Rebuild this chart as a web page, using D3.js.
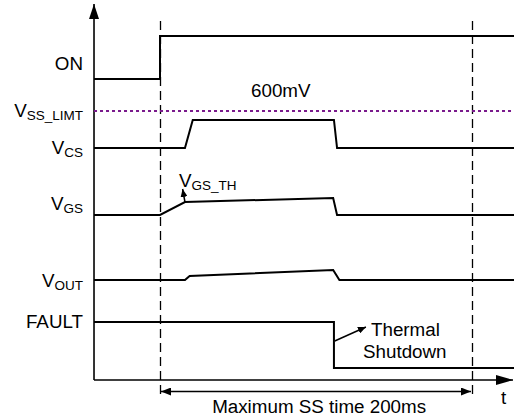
<!DOCTYPE html>
<html>
<head>
<meta charset="utf-8">
<script src="https://cdn.jsdelivr.net/npm/d3@7"></script>
<style>
  body { margin: 0; background: #fff; }
  text { font-family: "Liberation Sans", Arial, sans-serif; fill: #000; }
</style>
</head>
<body>
<div id="chart"></div>
<script>
/* DATA */
// time in ms (0 = enable edge, 200 = max soft-start time), level in arbitrary lane units
const tStart = -42.3, tEnd = 227;
const onWave    = [[tStart, 30.1], [0, 30.1], [0, 34.4], [tEnd, 34.4]];
const vcsWave   = [[tStart, 23.2], [16, 23.2], [21, 26.0], [111.5, 26.0], [113.5, 23.2], [tEnd, 23.2]];
const vgsWave   = [[tStart, 16.5], [0, 16.5], [16, 17.8], [111, 18.2], [113.5, 16.5], [tEnd, 16.5]];
const voutWave  = [[tStart, 10.0], [16, 10.0], [19, 10.4], [111, 11.0], [115, 10.0], [tEnd, 10.0]];
const faultWave = [[tStart, 5.8], [111.5, 5.8], [111.5, 1.2], [tEnd, 1.2]];
const waves = [onWave, vcsWave, vgsWave, voutWave, faultWave];

const ssLimit = 26.9;           // dotted 600mV level
const markerTimes = [0, 200];   // dashed vertical markers

const labelNames = ["ON", "V|SS_LIMT", "V|CS", "V|GS", "V|OUT", "FAULT"];
const labelLevels = [31.0, 26.3, 22.6, 17.0, 9.3, 5.2];

/* SETUP */
const W = 514, H = 419;
const svg = d3.select("#chart").append("svg").attr("width", W).attr("height", H);

const x = d3.scaleLinear().domain([0, 200]).range([160, 472]);
const y = d3.scaleLinear().domain([0, 36]).range([380, 20]);

const defs = svg.append("defs");
function marker(id, len, wid) {
  defs.append("marker").attr("id", id)
    .attr("viewBox", "0 0 10 10").attr("refX", 10).attr("refY", 5)
    .attr("markerWidth", len).attr("markerHeight", wid).attr("markerUnits", "userSpaceOnUse")
    .attr("orient", "auto-start-reverse")
    .attr("preserveAspectRatio", "none")
    .append("path").attr("d", "M0,0 L10,5 L0,10 Z").attr("fill", "#000");
}
marker("arrY", 15, 10);
marker("arrX", 17, 10);
marker("arrSpan", 10, 8);
marker("arrSmall", 8, 7);

// axes (no ticks, just arrows)
svg.append("line")
  .attr("x1", x(tStart)).attr("y1", y(0)).attr("x2", x(tStart)).attr("y2", 4)
  .attr("stroke", "#000").attr("stroke-width", 1.6).attr("marker-end", "url(#arrY)");
svg.append("line")
  .attr("x1", x(tStart)).attr("y1", y(0)).attr("x2", 513).attr("y2", y(0))
  .attr("stroke", "#000").attr("stroke-width", 1.6).attr("marker-end", "url(#arrX)");

// dashed time markers
svg.selectAll(".mark").data(markerTimes).join("line")
  .attr("class", "mark")
  .attr("x1", d => x(d) + 0.5).attr("x2", d => x(d) + 0.5)
  .attr("y1", 21).attr("y2", 396)
  .attr("stroke", "#000").attr("stroke-width", 1.3).attr("stroke-dasharray", "9,5");

// SS limit
svg.append("line")
  .attr("x1", x(tStart)).attr("x2", W).attr("y1", y(ssLimit)).attr("y2", y(ssLimit))
  .attr("stroke", "#7a1a8c").attr("stroke-width", 2).attr("stroke-dasharray", "3,3");
svg.append("text").attr("x", 251).attr("y", 97).attr("font-size", 18.8).text("600mV");

// waveforms
const line = d3.line().x(d => x(d[0])).y(d => y(d[1]));
svg.selectAll(".wave").data(waves).join("path")
  .attr("class", "wave")
  .attr("d", line)
  .attr("fill", "none").attr("stroke", "#000").attr("stroke-width", 2);

// signal labels
const lbl = svg.selectAll(".lbl").data(labelNames).join("text")
  .attr("class", "lbl")
  .attr("x", 83).attr("y", (d, i) => y(labelLevels[i]))
  .attr("text-anchor", "end").attr("font-size", 18.8);
lbl.each(function(d) {
  const parts = d.split("|");
  const t = d3.select(this);
  t.append("tspan").text(parts[0]);
  if (parts[1]) t.append("tspan").attr("font-size", 13.5).attr("dy", 3).text(parts[1]);
});

// VGS_TH annotation
svg.append("line")
  .attr("x1", x(16)).attr("y1", y(17.8)).attr("x2", x(14.5)).attr("y2", y(19.1))
  .attr("stroke", "#000").attr("stroke-width", 1.5).attr("marker-end", "url(#arrSmall)");
const th = svg.append("text").attr("x", 179).attr("y", 187).attr("font-size", 18.8);
th.append("tspan").text("V");
th.append("tspan").attr("font-size", 13.5).attr("dy", 3).text("GS_TH");

// thermal shutdown annotation
svg.append("line")
  .attr("x1", x(112)).attr("y1", y(3.9)).attr("x2", x(132)).attr("y2", y(5.3))
  .attr("stroke", "#000").attr("stroke-width", 1.5).attr("marker-end", "url(#arrSmall)");
svg.append("text").attr("x", 371).attr("y", 336).attr("font-size", 18.8).text("Thermal");
svg.append("text").attr("x", 363).attr("y", 358).attr("font-size", 18.8).text("Shutdown");

// max SS time span
svg.append("line")
  .attr("x1", x(0) + 1).attr("x2", x(200) - 1).attr("y1", 391.5).attr("y2", 391.5)
  .attr("stroke", "#000").attr("stroke-width", 1.3)
  .attr("marker-start", "url(#arrSpan)").attr("marker-end", "url(#arrSpan)");
svg.append("text").attr("x", x(102)).attr("y", 413).attr("text-anchor", "middle")
  .attr("font-size", 18.8).text("Maximum SS time 200ms");
svg.append("text").attr("x", 501).attr("y", 404).attr("font-size", 18.8).text("t");
</script>
</body>
</html>
